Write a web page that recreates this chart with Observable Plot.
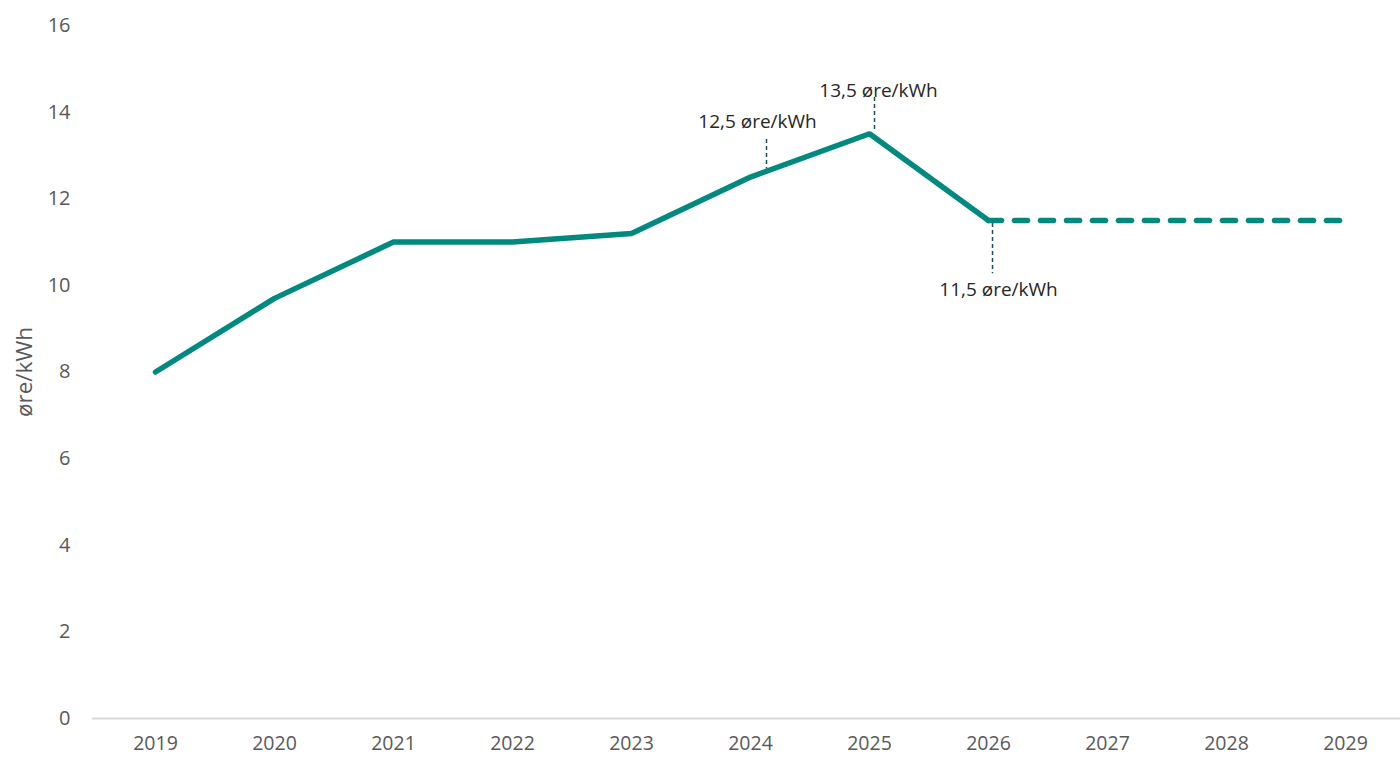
<!DOCTYPE html>
<html>
<head>
<meta charset="utf-8">
<script src="https://cdn.jsdelivr.net/npm/d3@7"></script>
<script src="https://cdn.jsdelivr.net/npm/@observablehq/plot@0.6"></script>
<style>
  html, body { margin: 0; padding: 0; background: #fff; }
  #chart svg { display: block; }
</style>
</head>
<body>
<div id="chart"></div>
<script>
// ---- Data ----
const years = ["2019","2020","2021","2022","2023","2024","2025","2026","2027","2028","2029"];
const historicYears = ["2019","2020","2021","2022","2023","2024","2025","2026"];
const historicValues = [8, 9.7, 11, 11, 11.2, 12.5, 13.5, 11.5];
const forecastYears = ["2026","2027","2028","2029"];
const forecastValues = [11.5, 11.5, 11.5, 11.5];
const yTicks = [0, 2, 4, 6, 8, 10, 12, 14, 16];
const annotYears = ["2024", "2025", "2026"];
const annotValues = [12.5, 13.5, 11.5];
const annotLabels = ["12,5 øre/kWh", "13,5 øre/kWh", "11,5 øre/kWh"];
const yTitle = "øre/kWh";

// ---- Tables ----
const historic = historicYears.map((year, i) => ({year, value: historicValues[i]}));
const forecast = forecastYears.map((year, i) => ({year, value: forecastValues[i]}));

// annotation layout (styling, not data)
const annotLayout = [
  {dx: 16, leaderTop: 13.37, leaderBottom: 12.68, textY: 13.78, textDx: 7},
  {dx: 5,  leaderTop: 14.34, leaderBottom: 13.53, textY: 14.50, textDx: 9},
  {dx: 4,  leaderTop: 11.43, leaderBottom: 10.27, textY: 9.89,  textDx: 10}
];
const annots = annotYears.map((year, i) => ({year, value: annotValues[i], label: annotLabels[i], ...annotLayout[i]}));

const teal = "#00897F";
const leaderColor = "#1F4E5A";

const chart = Plot.plot({
  width: 1400,
  height: 758,
  marginLeft: 92,
  marginRight: 0,
  marginTop: 25,
  marginBottom: 40,
  style: {fontFamily: "'Open Sans', sans-serif", fontSize: "20px", color: "#595959", background: "#fff"},
  x: {type: "point", domain: years, range: [152, 1348], padding: 0},
  y: {domain: [0, 16]},
  marks: [
    Plot.ruleY([0], {stroke: "#d9d9d9", strokeWidth: 2}),
    Plot.axisY({ticks: yTicks, tickSize: 0, tickPadding: 22, label: null, fontSize: 20}),
    Plot.axisX({tickSize: 0, tickPadding: 18, label: null, fontSize: 19.5}),
    Plot.text([yTitle], {frameAnchor: "left", textAnchor: "middle", rotate: -90, dx: -68, fontSize: 22.5, fill: "#595959"}),
    // leaders
    ...annots.map(a => Plot.ruleX([a], {x: "year", y1: "leaderTop", y2: "leaderBottom", dx: a.dx, stroke: leaderColor, strokeWidth: 1.5, strokeDasharray: "4,3"})),
    Plot.line(historic, {x: "year", y: "value", stroke: teal, strokeWidth: 5.5, strokeLinejoin: "miter", strokeLinecap: "round"}),
    Plot.line(forecast, {x: "year", y: "value", stroke: teal, strokeWidth: 5.5, strokeDasharray: "13,13", strokeLinecap: "round"}),
    ...annots.map(a => Plot.text([a], {x: "year", y: "textY", text: "label", dx: a.textDx, fontSize: 19, fill: "#262626", lineAnchor: "middle"}))
  ]
});

document.getElementById("chart").appendChild(chart);
</script>
</body>
</html>
